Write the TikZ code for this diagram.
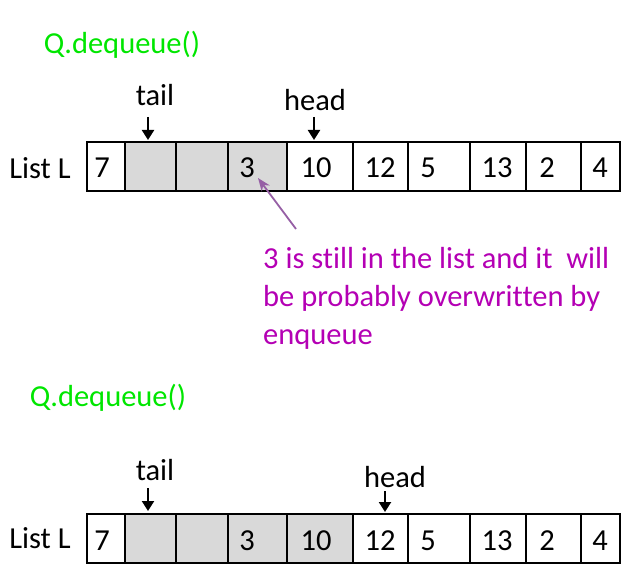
\documentclass[tikz,border=0pt]{standalone}
\usepackage{fontspec}
\setmainfont{Carlito}[Ligatures=NoCommon]
\definecolor{cellgray}{RGB}{217,217,217}
\definecolor{opgreen}{RGB}{0,230,0}
\definecolor{notemag}{RGB}{180,0,180}
\definecolor{notearrow}{RGB}{150,95,165}
\usetikzlibrary{arrows.meta}
\tikzset{
    txt/.style={inner sep=0pt, font=\fontsize{30.5}{38}\selectfont},
    num/.style={txt, anchor=base},
    ptr/.style={-{Triangle[length=10pt,width=12pt]}, line width=2.2pt},
}
\begin{document}
\begin{tikzpicture}[x=1pt, y=-1pt]
    \useasboundingbox (0,0) rectangle (627,580);
    % first dequeue
    \node[txt, text=opgreen] (op1) at (122,45) {Q.dequeue()};
    \node[txt] (list1) at (40,168) {List L};
    \foreach \l/\r/\v/\t/\f [count=\i] in {87/125/7/102/white, 125/176//150/cellgray,
        176/228//202/cellgray, 228/287/3/247/cellgray, 287/353/10/316/white,
        353/408/12/380/white, 408/470/5/428/white, 470/526/13/497/white,
        526/581/2/547/white, 581/620/4/600/white}
    {
        \draw[line width=1.3pt, fill=\f] (\l,142) rectangle (\r,191);
        \node[num] (a\i) at (\t,178) {\v};
    }
    \node[txt] (tail1) at (155,95) {tail};
    \node[txt] (head1) at (315,100) {head};
    \coordinate (t1) at (148,140);
    \coordinate (h1) at (314,140);
    \draw[ptr] (t1 |- 0,117) -- (t1);
    \draw[ptr] (h1 |- 0,117) -- (h1);
    % note on the old value
    \node[txt, text=notemag, align=left, anchor=north west] (note) at (263,247)
        {3 is still in the list and it~ will\\be probably overwritten by\\enqueue};
    \coordinate (n0) at (296,229);
    \coordinate (n1) at (258,178);
    \draw[-{Stealth[length=13pt,width=10pt]}, notearrow, line width=1.8pt] (n0) -- (n1);
    % second dequeue
    \node[txt, text=opgreen] (op2) at (108,398) {Q.dequeue()};
    \node[txt] (list2) at (40,538) {List L};
    \foreach \l/\r/\v/\t/\f [count=\i] in {87/125/7/102/white, 125/176//150/cellgray,
        176/228//202/cellgray, 228/287/3/247/cellgray, 287/353/10/316/cellgray,
        353/408/12/380/white, 408/470/5/428/white, 470/526/13/497/white,
        526/581/2/547/white, 581/620/4/600/white}
    {
        \draw[line width=1.3pt, fill=\f] (\l,514) rectangle (\r,563);
        \node[num] (b\i) at (\t,550) {\v};
    }
    \node[txt] (tail2) at (155,470) {tail};
    \node[txt] (head2) at (395,477) {head};
    \coordinate (t2) at (148,511);
    \coordinate (h2) at (385,512);
    \draw[ptr] (t2 |- 0,488) -- (t2);
    \draw[ptr] (h2 |- 0,491) -- (h2);
\end{tikzpicture}
\end{document}
